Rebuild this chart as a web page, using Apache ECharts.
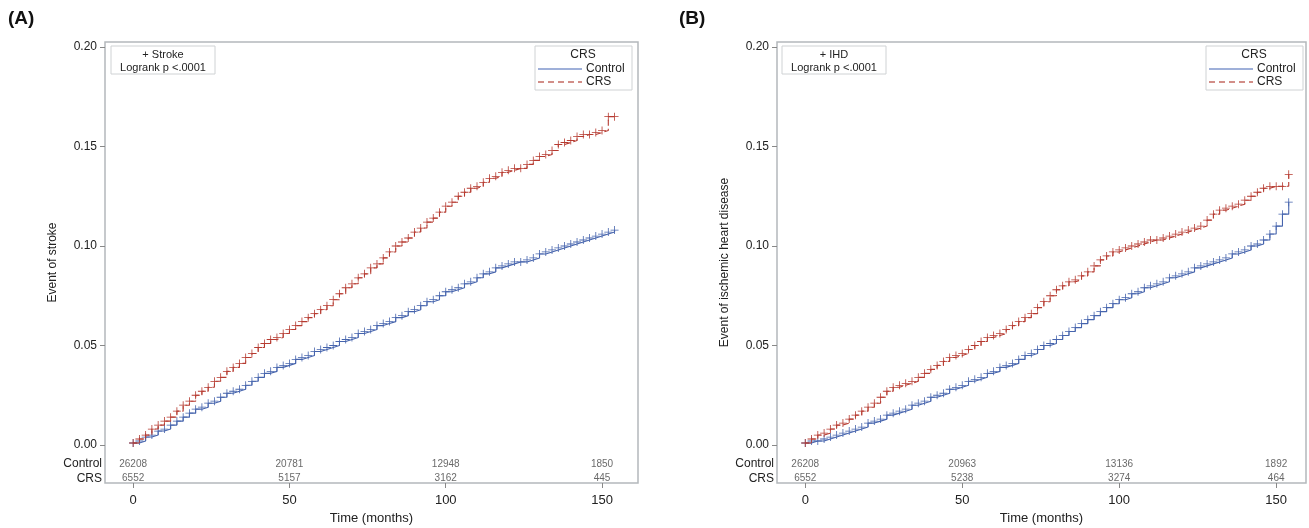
<!DOCTYPE html>
<html>
<head>
<meta charset="utf-8">
<title>Cumulative incidence - stroke / IHD</title>
<script src="https://cdn.jsdelivr.net/npm/echarts@6/dist/echarts.min.js"></script>
<style>
  html, body { margin: 0; padding: 0; background: #fff; }
  #chart { width: 1309px; height: 528px; }
</style>
</head>
<body>
<div id="chart"></div>
<script>
// ---- data ----
// follow-up time in months, one point every 2 months
const months = [
  0, 2, 4, 6, 8, 10, 12, 14, 16, 18,
  20, 22, 24, 26, 28, 30, 32, 34, 36, 38,
  40, 42, 44, 46, 48, 50, 52, 54, 56, 58,
  60, 62, 64, 66, 68, 70, 72, 74, 76, 78,
  80, 82, 84, 86, 88, 90, 92, 94, 96, 98,
  100, 102, 104, 106, 108, 110, 112, 114, 116, 118,
  120, 122, 124, 126, 128, 130, 132, 134, 136, 138,
  140, 142, 144, 146, 148, 150, 152, 154
]
const strokeControl = [
  0.001, 0.002, 0.004, 0.005, 0.007, 0.008, 0.010, 0.012, 0.014, 0.016,
  0.018, 0.019, 0.021, 0.022, 0.024, 0.026, 0.027, 0.028, 0.030, 0.032,
  0.034, 0.036, 0.037, 0.039, 0.040, 0.041, 0.043, 0.044, 0.045, 0.047,
  0.048, 0.049, 0.050, 0.052, 0.053, 0.054, 0.056, 0.057, 0.058, 0.060,
  0.061, 0.062, 0.064, 0.065, 0.067, 0.068, 0.070, 0.072, 0.073, 0.075,
  0.077, 0.078, 0.079, 0.081, 0.082, 0.084, 0.086, 0.087, 0.089, 0.090,
  0.091, 0.092, 0.092, 0.093, 0.094, 0.096, 0.097, 0.098, 0.099, 0.100,
  0.101, 0.102, 0.103, 0.104, 0.105, 0.106, 0.107, 0.108
]
const strokeCRS = [
  0.001, 0.003, 0.005, 0.008, 0.010, 0.012, 0.014, 0.017, 0.020, 0.022,
  0.025, 0.027, 0.029, 0.032, 0.034, 0.037, 0.039, 0.041, 0.044, 0.046,
  0.049, 0.051, 0.053, 0.054, 0.056, 0.058, 0.060, 0.062, 0.064, 0.066,
  0.068, 0.070, 0.073, 0.076, 0.079, 0.081, 0.084, 0.086, 0.089, 0.091,
  0.094, 0.097, 0.100, 0.102, 0.104, 0.107, 0.109, 0.112, 0.114, 0.117,
  0.120, 0.122, 0.125, 0.127, 0.129, 0.130, 0.132, 0.134, 0.135, 0.137,
  0.138, 0.139, 0.139, 0.141, 0.143, 0.145, 0.146, 0.148, 0.151, 0.152,
  0.153, 0.155, 0.156, 0.156, 0.157, 0.158, 0.165, 0.165
]
const ihdControl = [
  0.001, 0.002, 0.002, 0.003, 0.004, 0.005, 0.006, 0.007, 0.008, 0.009,
  0.011, 0.012, 0.013, 0.015, 0.016, 0.017, 0.018, 0.020, 0.021, 0.022,
  0.024, 0.025, 0.026, 0.028, 0.029, 0.030, 0.032, 0.033, 0.034, 0.036,
  0.037, 0.039, 0.040, 0.041, 0.043, 0.045, 0.046, 0.048, 0.050, 0.051,
  0.053, 0.055, 0.057, 0.059, 0.061, 0.063, 0.065, 0.067, 0.069, 0.071,
  0.073, 0.074, 0.076, 0.077, 0.079, 0.080, 0.081, 0.082, 0.084, 0.085,
  0.086, 0.087, 0.089, 0.090, 0.091, 0.092, 0.093, 0.094, 0.096, 0.097,
  0.098, 0.100, 0.101, 0.103, 0.106, 0.110, 0.116, 0.122
]
const ihdCRS = [
  0.001, 0.003, 0.005, 0.006, 0.008, 0.010, 0.011, 0.013, 0.015, 0.017,
  0.019, 0.021, 0.024, 0.027, 0.029, 0.030, 0.031, 0.032, 0.034, 0.036,
  0.038, 0.040, 0.042, 0.044, 0.045, 0.046, 0.048, 0.050, 0.052, 0.054,
  0.055, 0.056, 0.058, 0.060, 0.062, 0.064, 0.066, 0.069, 0.072, 0.075,
  0.078, 0.080, 0.082, 0.083, 0.085, 0.087, 0.090, 0.093, 0.095, 0.097,
  0.098, 0.099, 0.100, 0.101, 0.102, 0.103, 0.103, 0.104, 0.105, 0.106,
  0.107, 0.108, 0.109, 0.110, 0.113, 0.116, 0.118, 0.119, 0.120, 0.121,
  0.123, 0.125, 0.127, 0.129, 0.130, 0.130, 0.130, 0.136
]

const riskTimes = [0, 50, 100, 150]
const riskControlA = [26208, 20781, 12948, 1850]
const riskCRSA = [6552, 5157, 3162, 445]
const riskControlB = [26208, 20963, 13136, 1892]
const riskCRSB = [6552, 5238, 3274, 464]

const xTicks = [0, 50, 100, 150]
const yTicks = [0, 0.05, 0.1, 0.15, 0.2]

// ---- styling ----
const FONT = '"Liberation Sans", Arial, sans-serif'
const BLUE = '#4664ad'
const RED = '#b63b31'
const BLUE_LEG = '#7f96cc'
const RED_LEG = '#c46a62'
const BOX = '#b4b8bc'
const PLUS = 'path://M-0.5,-5h1v4.5h4.5v1h-4.5v4.5h-1v-4.5h-4.5v-1h4.5z'
const ROW_CONTROL = -0.0095
const ROW_CRS = -0.0166

const chart = echarts.init(document.getElementById('chart'))

function curve(name, idx, vals, color, dashed) {
  return {
    name: name,
    type: 'line',
    xAxisIndex: idx,
    yAxisIndex: idx,
    step: 'end',
    data: months.map((t, i) => [t, vals[i]]),
    symbol: PLUS,
    symbolSize: 8,
    showSymbol: true,
    itemStyle: { color: color },
    lineStyle: { color: color, width: 1.1, type: dashed ? [6, 3] : 'solid' },
    emphasis: { disabled: true },
    z: dashed ? 3 : 2
  }
}

function riskRow(idx, counts, rowY) {
  return {
    type: 'scatter',
    xAxisIndex: idx,
    yAxisIndex: idx,
    symbolSize: 0,
    silent: true,
    data: riskTimes.map((t, i) => [t, rowY, counts[i]]),
    label: {
      show: true,
      position: 'inside',
      formatter: p => p.value[2],
      fontFamily: FONT,
      fontSize: 10,
      color: '#444'
    }
  }
}

function panelGraphics(dx, gridLeft, title) {
  const txt = (x, y, s, opts) => ({
    type: 'text', x: x, y: y,
    style: Object.assign({ text: s, fontFamily: FONT, fontSize: 11, fill: '#222', textVerticalAlign: 'middle' }, opts || {})
  })
  return [
    txt(8 + dx, 19, dx ? '(B)' : '(A)', { fontSize: 19, fontWeight: 'bold', fill: '#111' }),
    // annotation box
    { type: 'rect', shape: { x: 111 + dx, y: 46, width: 104, height: 28 }, style: { fill: '#fff', stroke: '#cfd2d4', lineWidth: 1 } },
    txt(163 + dx, 55, title, { textAlign: 'center' }),
    txt(163 + dx, 68, 'Logrank p <.0001', { textAlign: 'center' }),
    // legend box
    { type: 'rect', shape: { x: 535 + dx, y: 46, width: 97, height: 44 }, style: { fill: '#fff', stroke: '#cfd2d4', lineWidth: 1 } },
    txt(583 + dx, 55, 'CRS', { textAlign: 'center', fontSize: 12 }),
    { type: 'line', shape: { x1: 538 + dx, y1: 69, x2: 582 + dx, y2: 69 }, style: { stroke: BLUE_LEG, lineWidth: 1.5 } },
    txt(586 + dx, 69, 'Control', { fontSize: 12 }),
    { type: 'line', shape: { x1: 538 + dx, y1: 82, x2: 582 + dx, y2: 82 }, style: { stroke: RED_LEG, lineWidth: 1.5, lineDash: [6, 4] } },
    txt(586 + dx, 82, 'CRS', { fontSize: 12 }),
    // at-risk row labels
    txt(gridLeft - 3, 464, 'Control', { textAlign: 'right', fontSize: 12 }),
    txt(gridLeft - 3, 479, 'CRS', { textAlign: 'right', fontSize: 12 })
  ]
}

function xAxis(idx, max) {
  return {
    type: 'value', gridIndex: idx, min: -9, max: max,
    name: 'Time (months)', nameLocation: 'middle', nameGap: 29,
    nameTextStyle: { fontFamily: FONT, fontSize: 13, color: '#222' },
    axisLine: { show: false, onZero: false },
    splitLine: { show: false },
    axisTick: { show: true, length: 5, customValues: xTicks, lineStyle: { color: '#888' } },
    axisLabel: { customValues: xTicks, margin: 11, fontFamily: FONT, fontSize: 13, color: '#222' }
  }
}

function yAxis(idx, name) {
  return {
    type: 'value', gridIndex: idx, min: -0.0191, max: 0.2025,
    name: name, nameLocation: 'middle', nameGap: 46,
    nameTextStyle: { fontFamily: FONT, fontSize: 12, color: '#222' },
    axisLine: { show: false, onZero: false },
    splitLine: { show: false },
    axisTick: { show: true, length: 5, customValues: yTicks, lineStyle: { color: '#888' } },
    axisLabel: { customValues: yTicks, margin: 8, formatter: v => v.toFixed(2), fontFamily: FONT, fontSize: 12, color: '#222' }
  }
}

const option = {
  backgroundColor: '#fff',
  animation: false,
  grid: [
    { left: 105, top: 42, width: 533, height: 441, outerBoundsMode: 'none', show: true, borderColor: BOX, borderWidth: 1.5, backgroundColor: 'transparent' },
    { left: 777, top: 42, width: 529, height: 441, outerBoundsMode: 'none', show: true, borderColor: BOX, borderWidth: 1.5, backgroundColor: 'transparent' }
  ],
  xAxis: [xAxis(0, 161.5), xAxis(1, 159.5)],
  yAxis: [yAxis(0, 'Event of stroke'), yAxis(1, 'Event of ischemic heart disease')],
  series: [
    curve('Control', 0, strokeControl, BLUE, false),
    curve('CRS', 0, strokeCRS, RED, true),
    curve('Control', 1, ihdControl, BLUE, false),
    curve('CRS', 1, ihdCRS, RED, true),
    riskRow(0, riskControlA, ROW_CONTROL),
    riskRow(0, riskCRSA, ROW_CRS),
    riskRow(1, riskControlB, ROW_CONTROL),
    riskRow(1, riskCRSB, ROW_CRS)
  ],
  graphic: panelGraphics(0, 105, '+ Stroke').concat(panelGraphics(671, 777, '+ IHD'))
}

chart.setOption(option)
</script>
</body>
</html>
